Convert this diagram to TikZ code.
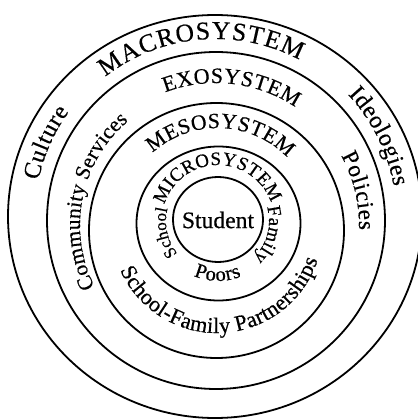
\documentclass[tikz,border=0pt]{standalone}
\usepackage{fontspec}
\setmainfont{Liberation Serif}[FakeBold=0.5]
\usetikzlibrary{decorations.text}
\newcommand{\arctxt}[6]{%
  \path[shift={#1}, decorate, decoration={text along path, text align={fit to path},
    text={|\fontsize{#5}{#5}\selectfont|#6}}] (#3:#2) arc[start angle=#3, end angle=#4, radius=#2];}
\tikzset{ring/.style={draw=black, line width=0.9pt}}
\begin{document}
\begin{tikzpicture}[x=0.5pt,y=0.5pt]
\useasboundingbox (0,0) rectangle (418,419);
% rings
\draw[ring] (215,202.5) ellipse[x radius=207, y radius=201.5];
\draw[ring] (216,198.5) ellipse[x radius=169, y radius=168.5];
\draw[ring] (216.5,188.5) circle[radius=127.5];
\draw[ring] (218.5,195.5) ellipse[x radius=82, y radius=77];
\draw[ring] (218,199.5) ellipse[x radius=45, y radius=42.5];
% center
\node[font=\fontsize{11.8}{12}\selectfont, inner sep=0pt] (student) at (218,199) {Student};
% macro gap
\arctxt{(215.5,201)}{179}{128}{62}{12.8}{MACROSYSTEM}
\arctxt{(215.5,201)}{181}{168}{144}{12}{Culture}
\arctxt{(215.5,201)}{181}{43}{10}{12}{Ideologies}
% exo gap
\arctxt{(216,194)}{142}{111}{56}{11}{EXOSYSTEM}
\arctxt{(216,194)}{136}{207}{130}{10.7}{Community Services}
\arctxt{(216,194)}{143}{29}{-2}{11.6}{Policies}
% meso gap
\arctxt{(217.5,194)}{97}{132}{44}{10.8}{MESOSYSTEM}
\arctxt{(217,192)}{106}{204}{342}{11.1}{School-Family Partnerships}
% micro gap
\arctxt{(218,198)}{56}{163}{19}{9.5}{MICROSYSTEM}
\arctxt{(218,198)}{52}{219}{166}{8.6}{School}
\arctxt{(218,198)}{51}{16}{-46}{9.5}{Family}
\arctxt{(218,198)}{60}{246}{293}{10.3}{Poors}
\end{tikzpicture}
\end{document}
